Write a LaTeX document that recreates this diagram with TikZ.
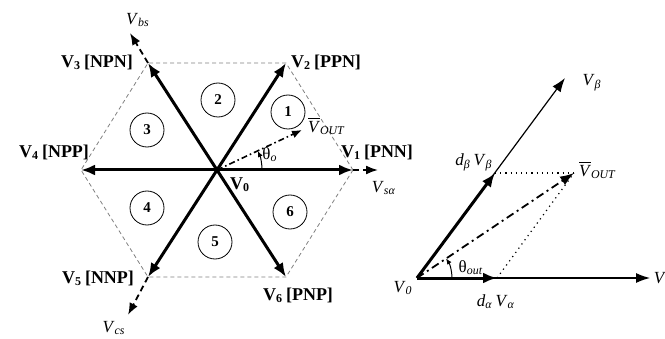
\documentclass[tikz,border=0pt]{standalone}
\usepackage{fontspec}
\setmainfont{Liberation Serif}
\usetikzlibrary{arrows.meta}
\newcommand{\svlab}[2]{\textbf{V}\textsubscript{\textbf{#1}}\,\textbf{[#2]}}
\newcommand{\ivlab}[2]{\textit{#1}\textsubscript{\textit{#2}}}
\newcommand{\voutlab}{$\overline{\mbox{\textit{V}}}$\textsubscript{\textit{OUT}}}

\begin{document}
\begin{tikzpicture}[x=0.5pt,y=0.5pt,line join=bevel,
  every node/.style={inner sep=0pt,outer sep=0pt},
  vec/.style={line width=1.5pt,-{Latex[length=7pt,width=5.5pt]}},
  ext/.style={line width=0.9pt,dash pattern=on 3pt off 2pt,-{Latex[length=6pt,width=4.5pt]}},
  hexedge/.style={line width=0.4pt,gray,dash pattern=on 2pt off 1.5pt},
  sector/.style={draw,circle,line width=0.4pt,minimum size=17pt,font=\fontsize{7.5pt}{8pt}\selectfont\bfseries},
  swlab/.style={font=\fontsize{9pt}{10pt}\selectfont},
  itlab/.style={font=\fontsize{8.5pt}{10pt}\selectfont}]
  \path[use as bounding box] (0,0) rectangle (665,338);  % 665x338 px
  % ---- hexagon: centre and the six switching vectors ----
  \coordinate (O)  at (217,168);
  \coordinate (V1) at (353,168);
  \coordinate (V2) at (286,275);
  \coordinate (V3) at (148,275);
  \coordinate (V4) at ( 81,168);
  \coordinate (V5) at (148, 61);
  \coordinate (V6) at (286, 61);
  % stationary axes (dashed continuations)
  \coordinate (Vsa) at (378,168);
  \coordinate (Vbs) at (130,305);
  \coordinate (Vcs) at (128, 23);
  \coordinate (Vo)  at (302,208);
  % ---- dashed hexagon ----
  \draw[hexedge] (V1) -- (V2) -- (V3) -- (V4) -- (V5) -- (V6) -- cycle;
  % ---- active vectors ----
  \foreach \v in {V1,V2,V3,V4,V5,V6} \draw[vec] (O) -- (\v);
  \draw[ext] (V1) -- (Vsa);
  \draw[ext] (V3) -- (Vbs);
  \draw[ext] (V5) -- (Vcs);
  % ---- reference vector and its angle ----
  \draw[line width=0.8pt,dash pattern=on 3pt off 1.5pt on 0.8pt off 1.5pt,-{Latex[length=5pt,width=4pt]}] (O) -- (Vo);
  \draw[line width=0.5pt,-{Latex[length=3pt,width=2.5pt]}] ([shift={(0:45)}]O) arc[start angle=0,end angle=25,radius=45];
  % ---- sector numbers ----
  \node[sector] (s1) at (288,226) {1};
  \node[sector] (s2) at (218,238) {2};
  \node[sector] (s3) at (147,208) {3};
  \node[sector] (s4) at (147,130) {4};
  \node[sector] (s5) at (215, 96) {5};
  \node[sector] (s6) at (290,126) {6};
  % ---- labels ----
  \node[swlab] (l1) at (377,186) {\svlab{1}{PNN}};
  \node[swlab] (l2) at (326,276) {\svlab{2}{PPN}};
  \node[swlab] (l3) at ( 97,276) {\svlab{3}{NPN}};
  \node[swlab] (l4) at ( 54,186) {\svlab{4}{NPP}};
  \node[swlab] (l5) at ( 98, 60) {\svlab{5}{NNP}};
  \node[swlab] (l6) at (298, 43) {\svlab{6}{PNP}};
  \node[swlab] (l0) at (240,153) {\textbf{V}\textsubscript{\textbf{0}}};
  \node[itlab] (lsa) at (384,150) {\ivlab{V}{sα}};
  \node[itlab] (lbs) at (138,318) {\ivlab{V}{bs}};
  \node[itlab] (lcs) at (114, 10) {\ivlab{V}{cs}};
  \node[itlab,anchor=west] (lo) at (308,212) {\voutlab};
  \node[itlab] (lth) at (270,183) {θ\textsubscript{\textit{o}}};
  % ---- right: decomposition along alpha/beta ----
  \coordinate (P0) at (417, 60);
  \coordinate (Pa) at (650, 60);
  \coordinate (Pb) at (565,260);
  \coordinate (Da) at (497, 60);
  \coordinate (Db) at (495,165);
  \coordinate (Po) at (574,165);
  \draw[line width=0.6pt,-{Latex[length=7pt,width=5pt]}] (P0) -- (Pa);
  \draw[line width=0.6pt,-{Latex[length=7pt,width=5pt]}] (P0) -- (Pb);
  \draw[vec] (P0) -- (Da);
  \draw[vec] (P0) -- (Db);
  \draw[line width=0.6pt,dotted] (Db) -- (Po);
  \draw[line width=0.6pt,dotted] (Da) -- (Po);
  \draw[line width=0.9pt,dash pattern=on 4pt off 2pt on 1pt off 2pt,-{Latex[length=7pt,width=5pt]}] (P0) -- (Po);
  \draw[line width=0.5pt,-{Latex[length=3pt,width=2.5pt]}] ([shift={(0:35)}]P0) arc[start angle=0,end angle=34,radius=35];
  \node[itlab] (r0)  at (403, 50) {\ivlab{V}{0}};
  \node[itlab] (ra)  at (660, 60) {\textit{V}};
  \node[itlab] (rb)  at (592,255) {\ivlab{V}{β}};
  \node[itlab] (rdb) at (474,176) {\ivlab{d}{β}\,\ivlab{V}{β}};
  \node[itlab] (rda) at (496, 36) {\ivlab{d}{α}\,\ivlab{V}{α}};
  \node[itlab,anchor=west] (ro) at (579,168) {\voutlab};
  \node[itlab] (rth) at (471, 70) {θ\textsubscript{\textit{out}}};
\end{tikzpicture}
\end{document}
